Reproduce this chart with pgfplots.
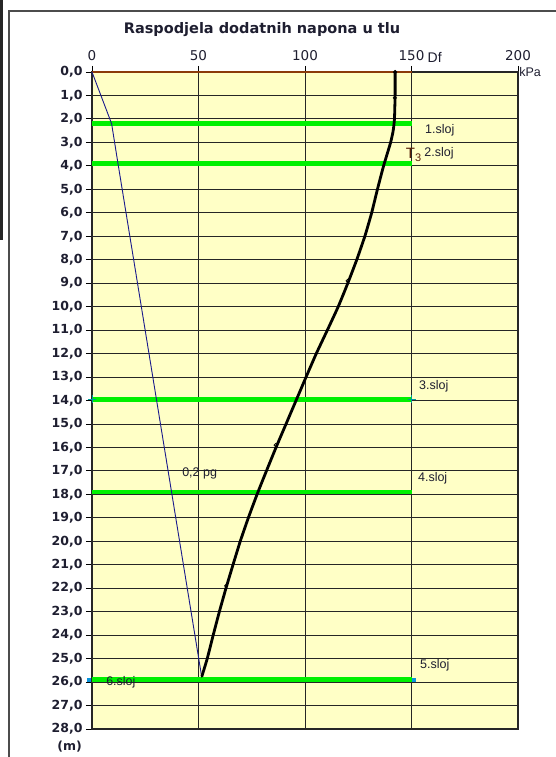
\documentclass[border=0pt]{standalone}
\usepackage{pgfplots}
\pgfplotsset{compat=1.18}
\usepackage{fontspec}
\setmainfont{DejaVu Sans}
\newfontfamily\arialf{Liberation Sans}
\definecolor{bgyel}{HTML}{FFFFC6}
\definecolor{lgreen}{HTML}{00F000}
\definecolor{brn}{HTML}{8B3A0A}
\definecolor{navy}{HTML}{1A1A8C}
\definecolor{tcol}{HTML}{1E1E30}
\definecolor{tbrown}{HTML}{5A2008}
\begin{document}
\begin{tikzpicture}
\begin{axis}[
  scale only axis, width=426pt, height=657pt,
  xmin=0, xmax=200, ymin=0, ymax=28, y dir=reverse,
  xtick={0,50,100,150,200}, ytick={0,1,...,28},
  xtick pos=right, xticklabel pos=right, ytick pos=left,
  tick align=outside, major tick length=6pt,
  tick style={black, line width=0.9pt},
  grid=major, major grid style={black!85, line width=0.9pt},
  axis line style={black!85, line width=1.2pt},
  axis background/.style={fill=bgyel},
  /pgf/number format/assume math mode=true,
  yticklabel style={font=\fontsize{12.5}{14}\selectfont\bfseries, text=tcol},
  yticklabel={\pgfmathprintnumber[fixed,fixed zerofill,precision=1,use comma]{\tick}},
  xticklabel={\pgfmathprintnumber[fixed,precision=0]{\tick}},
  xticklabel style={font=\fontsize{13.5}{15}\selectfont, text=tcol, yshift=2pt},
  clip=false,
]
\coordinate (TL) at (axis cs:0,0);
% brown Df line
\addplot[brn, line width=2pt] coordinates {(0,0) (150,0)};
% layer lines
\addplot[lgreen, line width=4.6pt] coordinates {(0,2.2) (150,2.2)};
\addplot[lgreen, line width=4.6pt] coordinates {(0,3.9) (150,3.9)};
\addplot[lgreen, line width=4.6pt] coordinates {(0,13.95) (150,13.95)};
\addplot[lgreen, line width=4.6pt] coordinates {(0,17.9) (150,17.9)};
\addplot[lgreen, line width=4.6pt] coordinates {(0,25.9) (150,25.9)};
% layer end markers
\addplot[only marks, mark=+, mark size=4pt, teal!80!cyan, line width=0.8pt] coordinates {(0,13.95) (150,13.95)};
\addplot[only marks, mark=square*, mark size=1.4pt, cyan!80!blue] coordinates {(-1.5,25.9) (151,25.9)};
% 0.2 pg line
\addplot[navy, line width=0.9pt] coordinates {(0,0) (9.2,2.2) (12.2,3.9) (51.4,25.72)};
% additional stress curve
\addplot[black, line width=2.8pt, line join=round, line cap=round, smooth, tension=0.3] coordinates {
(142.3,0) (142.3,1) (142,2) (141.4,2.5) (140.2,3) (136.9,4) (134,5) (131.3,6) (128.1,7) (124.3,8) (120.1,9) (115.6,10) (110.5,11) (105.3,12) (100.5,13) (95.8,14) (91.1,15) (86.4,16) (81.9,17) (77.5,18) (73.4,19) (69.6,20) (66.2,21) (62.9,22) (59.8,23) (56.9,24) (54.1,25) (51.6,25.75)};
\addplot[only marks, mark=o, mark size=1.6pt, black, line width=0.8pt] coordinates {(142.3,0) (142.2,1.1) (120,8.9) (86.2,15.9) (63,21.9)};
% labels
\begin{scope}[every node/.style={font=\arialf\fontsize{12.5}{14}\selectfont, text=tcol, inner sep=0pt}]
\node[anchor=west] at (axis cs:156.3,2.5) {1.sloj};
\node[anchor=west] at (axis cs:156,3.45) {2.sloj};
\node[anchor=west] at (axis cs:153.5,13.4) {3.sloj};
\node[anchor=west] at (axis cs:153,17.3) {4.sloj};
\node[anchor=west] at (axis cs:154,25.3) {5.sloj};
\node[anchor=west] at (axis cs:6.6,26.0) {6.sloj};
\node[anchor=west] at (axis cs:42.3,17.1) {0,2 pg};
\node[anchor=west, text=tbrown] at (axis cs:147.3,3.55) {\fontsize{15}{16}\selectfont T\raisebox{-3pt}{\fontsize{11}{12}\selectfont 3}};
\node[anchor=west, font=\arialf\fontsize{14}{16}\selectfont] at (axis cs:157.5,-0.6) {Df};
\node[anchor=west] at (axis cs:200.5,0) {kPa};
\end{scope}
\node[font=\fontsize{12.5}{14}\selectfont\bfseries, text=tcol] at (axis cs:-10.5,28.75) {(m)};
\end{axis}
\begin{scope}[shift={(TL)}, x=1pt, y=1pt]
\node[font=\fontsize{14.5}{16}\selectfont\bfseries, text=tcol] at (262-92,42) {Raspodjela dodatnih napona u tlu};
\fill[black!85] (-92,72) rectangle (-89,-168);
\draw[black!70, line width=1.3pt] (-83,-690) -- (-83,61) -- (470,61);
\pgfresetboundingbox
\path[use as bounding box] (-92,72) rectangle (463,-685);
\end{scope}
\end{tikzpicture}
\end{document}
